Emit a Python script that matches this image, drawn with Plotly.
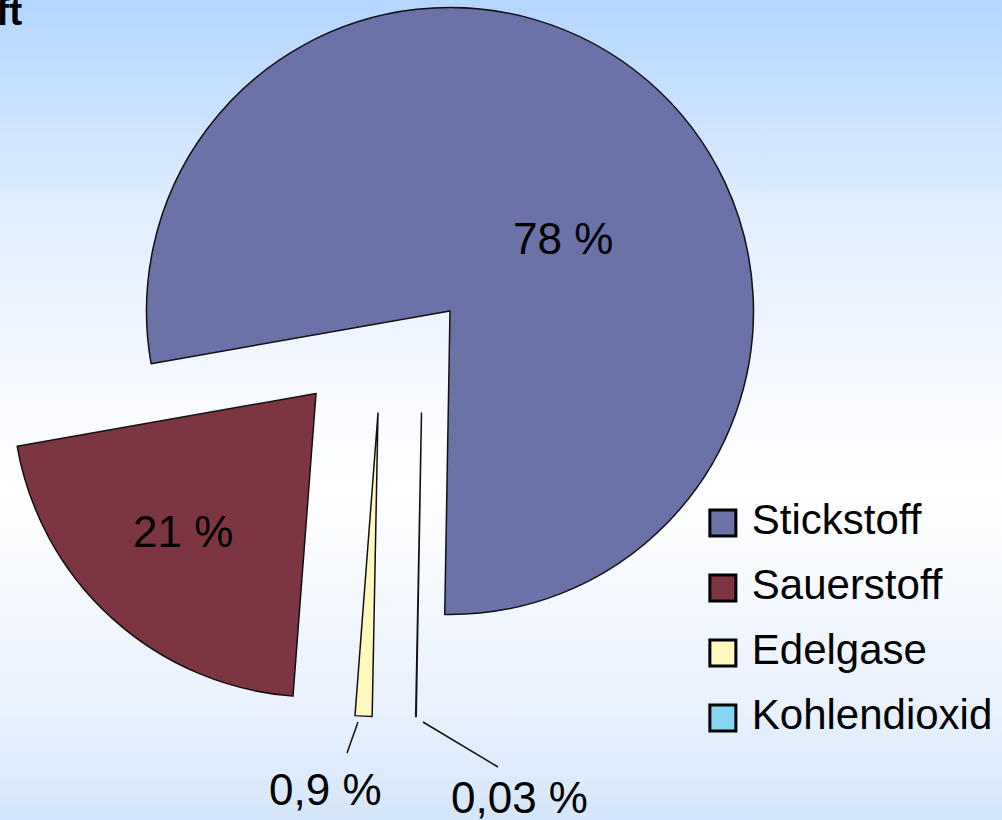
import base64
import plotly.graph_objects as go

# ---------------- data ----------------
labels = ["Stickstoff", "Sauerstoff", "Edelgase", "Kohlendioxid"]
values = [78, 21, 0.9, 0.03]
value_text = ["78 %", "21 %", "0,9 %", "0,03 %"]
title_text = "Zusammensetzung der Luft"

# ---------------- styles / layout ----------------
colors = ["#6A72A8", "#7D3541", "#FFF8BF", "#88D6F2"]
W, H = 1002, 820
R = 303.5                       # pie radius in px
# apex (centre) of every exploded slice, px
apex = [(450, 311), (316, 393.5), (378, 413), (421.5, 413)]
# label centres, px
label_pos = [(563, 238), (183, 531), (325, 789), (519, 797)]
# leader lines for the small slices, px
leaders = [None, None, ((347, 753), (358, 722)), ((498, 767), (423, 722))]
FONT = "Liberation Sans, Arial, sans-serif"


def px(x):
    return x / W


def py(y):
    return 1 - y / H


fig = go.Figure()

# one pie trace per exploded slice (same values -> same angles)
for i in range(len(values)):
    cx, cy = apex[i]
    fig.add_trace(go.Pie(
        values=values,
        labels=labels,
        sort=False,
        direction="counterclockwise",
        rotation=-100,
        textinfo="none",
        hoverinfo="label+value",
        showlegend=False,
        marker=dict(
            colors=[c if j == i else "rgba(0,0,0,0)" for j, c in enumerate(colors)],
            line=dict(
                color=["#111111" if j == i else "rgba(0,0,0,0)" for j in range(len(values))],
                width=[1.5 if j == i else 0 for j in range(len(values))],
            ),
        ),
        domain=dict(x=[px(cx - R), px(cx + R)], y=[py(cy + R), py(cy - R)]),
    ))

# legend drawn as a small marker+text series
fig.add_trace(go.Scatter(
    x=[0] * len(labels),
    y=list(range(len(labels))),
    mode="markers+text",
    text=[" " + l for l in labels],
    textposition="middle right",
    textfont=dict(family=FONT, size=42, color="black"),
    marker=dict(symbol="square", size=26, color=colors,
                line=dict(color="black", width=3)),
    cliponaxis=False,
    hoverinfo="skip",
    showlegend=False,
    xaxis="x", yaxis="y",
))

# background gradient
svg = (
    "<svg xmlns='http://www.w3.org/2000/svg' width='1002' height='820'>"
    "<defs><linearGradient id='g' x1='0' y1='0' x2='0' y2='1'>"
    "<stop offset='0' stop-color='#B3D6FF'/>"
    "<stop offset='0.25' stop-color='#DFEDFF'/>"
    "<stop offset='0.5' stop-color='#F9FBFF'/>"
    "<stop offset='0.6' stop-color='#FFFFFF'/>"
    "<stop offset='0.85' stop-color='#EAF2FD'/>"
    "<stop offset='1' stop-color='#D5E6FA'/>"
    "</linearGradient></defs>"
    "<rect x='0' y='0' width='1002' height='820' fill='url(#g)'/></svg>"
)
src = "data:image/svg+xml;base64," + base64.b64encode(svg.encode()).decode()

annotations = []
for i, t in enumerate(value_text):
    x, y = label_pos[i]
    annotations.append(dict(
        x=px(x), y=py(y), xref="paper", yref="paper", text=t, showarrow=False,
        xanchor="center", yanchor="middle",
        font=dict(family=FONT, size=44, color="black"),
    ))
annotations.append(dict(
    x=px(24), y=py(35), xref="paper", yref="paper", text="<b>" + title_text + "</b>",
    showarrow=False, xanchor="right", yanchor="bottom",
    font=dict(family=FONT, size=39, color="black"),
))

shapes = []
for ld in leaders:
    if ld is None:
        continue
    (x0, y0), (x1, y1) = ld
    shapes.append(dict(type="line", xref="paper", yref="paper",
                       x0=px(x0), y0=py(y0), x1=px(x1), y1=py(y1),
                       line=dict(color="#111111", width=1.5)))

fig.update_layout(
    width=W, height=H,
    margin=dict(l=0, r=0, t=0, b=0),
    paper_bgcolor="white",
    plot_bgcolor="rgba(0,0,0,0)",
    showlegend=False,
    images=[dict(source=src, xref="paper", yref="paper", x=0, y=1,
                 sizex=1, sizey=1, sizing="stretch", layer="below",
                 xanchor="left", yanchor="top")],
    xaxis=dict(domain=[0.7, 1.0], range=[-1, 13], visible=False, fixedrange=True),
    yaxis=dict(domain=[py(750.5), py(490.5)], range=[3.5, -0.5], visible=False,
               fixedrange=True),
    annotations=annotations,
    shapes=shapes,
)

fig.write_html("out.html")
